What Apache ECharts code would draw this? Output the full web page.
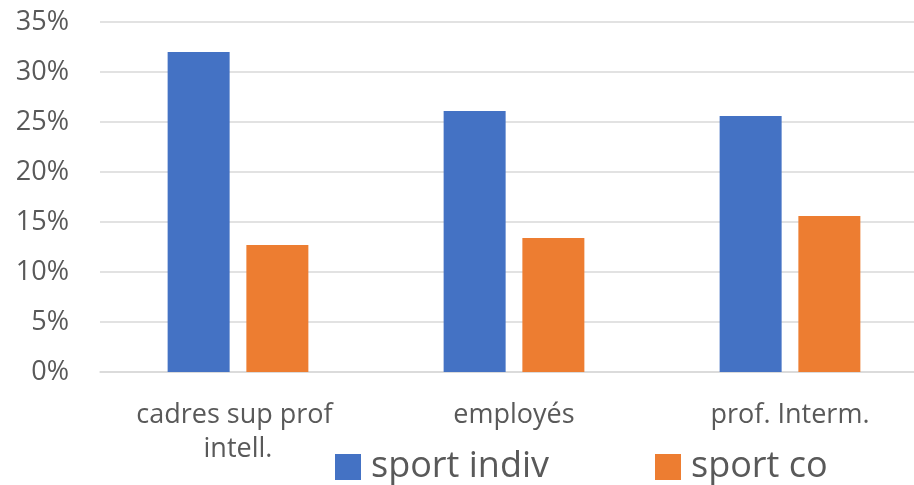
<!DOCTYPE html>
<html>
<head>
<meta charset="utf-8">
<script src="https://cdn.jsdelivr.net/npm/echarts@6/dist/echarts.min.js"></script>
<style>
  html, body { margin: 0; padding: 0; background: #fff; }
  #main { width: 914px; height: 485px; }
</style>
</head>
<body>
<div id="main"></div>
<script>
const categories = ['cadres sup prof intell.', 'employés', 'prof. Interm.'];
const sportIndiv = [32, 26.1, 25.6];
const sportCo = [12.7, 13.4, 15.6];
const yTicks = [0, 5, 10, 15, 20, 25, 30, 35];

const textColor = '#595959';
const fontFamily = '"Open Sans", sans-serif';

const myChart = echarts.init(document.getElementById('main'));

const option = {
  animation: false,
  // plot area runs past the right edge of the picture
  grid: { left: 100, width: 828, top: 22, height: 350, outerBoundsMode: 'none' },
  legend: {
    left: 330,
    top: 444,
    itemWidth: 26,
    itemHeight: 26,
    itemGap: 106,
    icon: 'rect',
    textStyle: {
      color: textColor,
      fontSize: 36,
      fontFamily: fontFamily,
      padding: [0, 0, 0, 5]
    }
  },
  xAxis: {
    type: 'category',
    data: categories,
    axisLine: { lineStyle: { color: '#d9d9d9', width: 1.5 } },
    axisTick: { show: false },
    axisLabel: {
      color: textColor,
      fontSize: 27,
      fontFamily: fontFamily,
      margin: 26,
      lineHeight: 34,
      width: 240,
      overflow: 'break',
      interval: 0
    }
  },
  yAxis: {
    type: 'value',
    min: yTicks[0],
    max: yTicks[yTicks.length - 1],
    interval: 5,
    axisLine: { show: false },
    axisTick: { show: false },
    splitLine: { lineStyle: { color: '#d9d9d9', width: 1.5 } },
    axisLabel: {
      color: textColor,
      fontSize: 27,
      fontFamily: fontFamily,
      margin: 31,
      formatter: '{value}%'
    }
  },
  series: [
    {
      name: 'sport indiv',
      type: 'bar',
      data: sportIndiv,
      barWidth: 62,
      barGap: '27%',
      itemStyle: { color: '#4472c4' }
    },
    {
      name: 'sport co',
      type: 'bar',
      data: sportCo,
      barWidth: 62,
      itemStyle: { color: '#ed7d31' }
    }
  ]
};

myChart.setOption(option);
</script>
</body>
</html>
